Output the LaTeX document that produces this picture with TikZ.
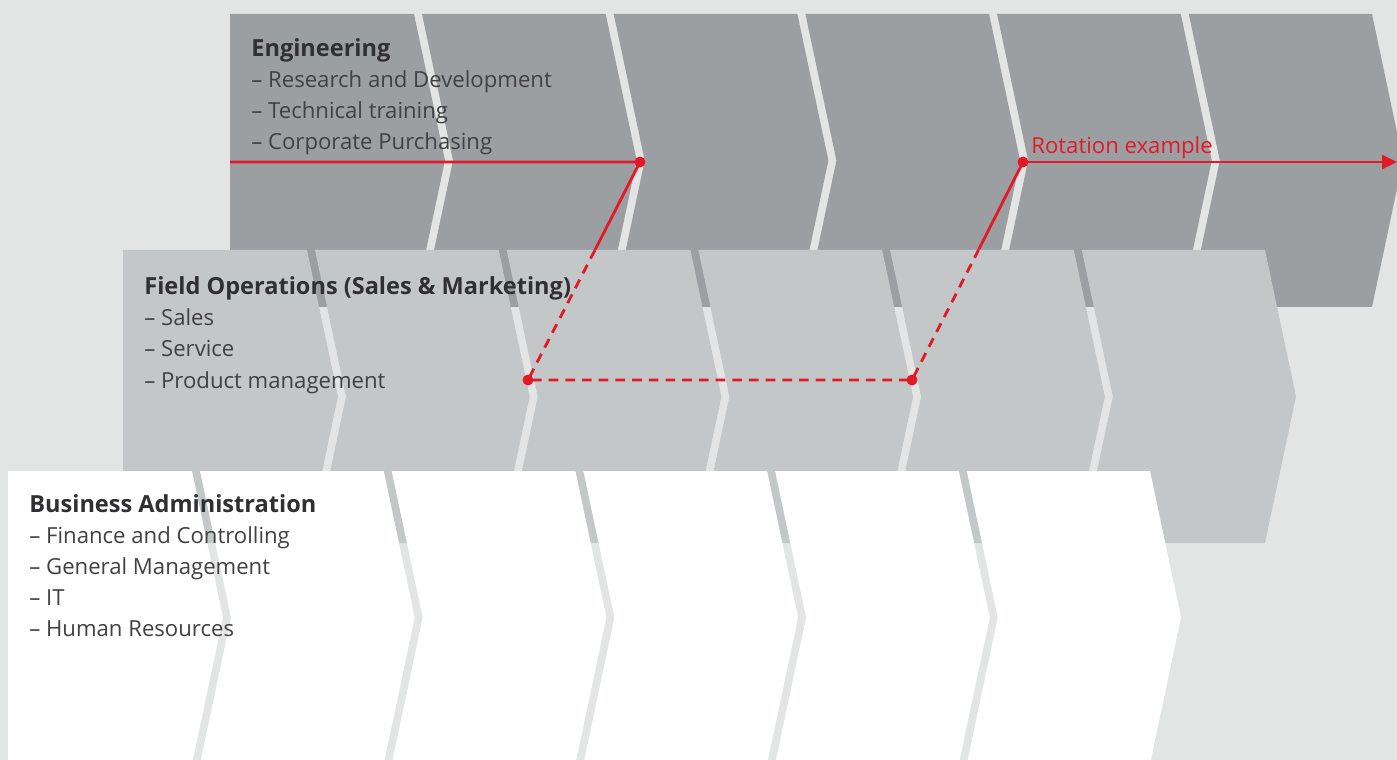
\documentclass[tikz,border=0pt]{standalone}
\usepackage{fontspec}
\setmainfont{Open Sans}
\usetikzlibrary{arrows.meta}

\definecolor{bgray}{RGB}{227,228,228}
\definecolor{enggray}{RGB}{156,159,162}
\definecolor{fieldgray}{RGB}{196,199,200}
\definecolor{rotred}{RGB}{226,26,39}
\definecolor{txt}{RGB}{48,48,50}

% one band of six chevrons: left x, top y, colour
\newcommand{\chevband}[3]{%
  \foreach \i in {0,...,5}{%
    \pgfmathsetmacro{\xa}{\i==0 ? #1 : #1+188+191.7*(\i-1)+4}%
    \pgfmathsetmacro{\xb}{\i==5 ? #1+1142 : #1+188+191.7*\i-4}%
    \pgfmathsetmacro{\da}{\i==0 ? 0 : 31}%
    \fill[#3] (\xa,#2) -- (\xb,#2) -- (\xb+31,#2+146.5) -- (\xb,#2+293)
      -- (\xa,#2+293) -- (\xa+\da,#2+146.5) -- cycle;
  }%
}

\begin{document}
\begin{tikzpicture}[x=0.02cm,y=-0.02cm,
    title/.style={anchor=base west,inner sep=0,text=txt,font=\fontsize{13.4}{16}\selectfont\bfseries},
    item/.style={anchor=base west,inner sep=0,text=txt!92,font=\fontsize{12.6}{16}\selectfont},
    redline/.style={draw=rotred,line width=1.6pt},
    dot/.style={fill=rotred}]

	\useasboundingbox (0,0) rectangle (1397,760);
	\clip (0,0) rectangle (1397,760);
	\fill[bgray] (0,0) rectangle (1397,760);

	% points of the rotation path
	\coordinate (r0) at (230,162);
	\coordinate (r1) at (640,162);
	\coordinate (c1) at (595,250);
	\coordinate (r2) at (528,380);
	\coordinate (r3) at (912,380);
	\coordinate (c2) at (978.5,250);
	\coordinate (r4) at (1023,162);
	\coordinate (r5) at (1397,162);

	% Engineering
	\chevband{230}{14}{enggray}
	\draw[redline] (r0) -- (r1) -- (c1);
	\draw[redline] (c2) -- (r4);
	\draw[redline,-{Triangle[length=0.3cm,width=0.28cm]}] (r4) -- (r5);
	\node (eng) [title] at (251,57) {Engineering};
	\foreach \t [count=\k] in {Research and Development,Technical training,Corporate Purchasing}
		\node (eng\k) [item] at (251,57+31*\k) {– \t};
	\node (rot) [item,text=rotred] at (1031,154) {Rotation example};

	% Field Operations
	\chevband{123}{250}{fieldgray}
	\draw[redline,dash pattern=on 5.5pt off 4pt] (c1) -- (r2) -- (r3) -- (c2);
	\node (field) [title] at (144,295) {Field Operations (Sales \& Marketing)};
	\foreach \t [count=\k] in {Sales,Service,Product management}
		\node (field\k) [item] at (144,295+31*\k) {– \t};

	% Business Administration
	\chevband{8}{471}{white}
	\node (admin) [title] at (29,512) {Business Administration};
	\foreach \t [count=\k] in {Finance and Controlling,General Management,IT,Human Resources}
		\node (admin\k) [item] at (29,512+31*\k) {– \t};

	\foreach \p in {r1,r2,r3,r4}
		\fill[dot] (\p) circle (0.11cm);

\end{tikzpicture}
\end{document}
